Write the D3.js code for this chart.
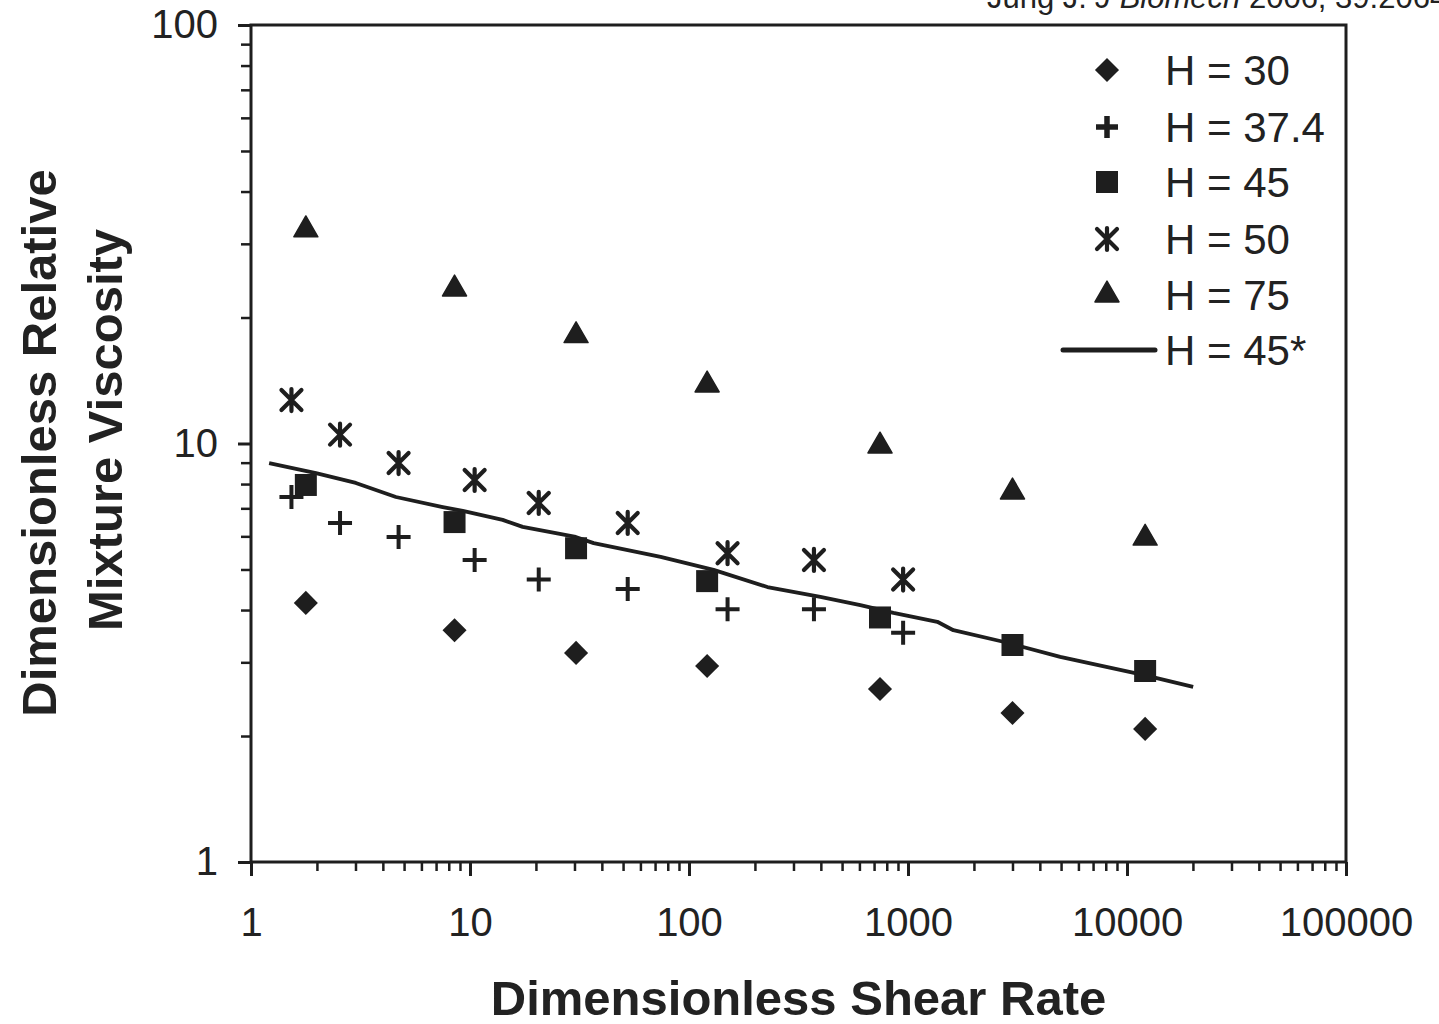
<!DOCTYPE html>
<html>
<head>
<meta charset="utf-8">
<script src="https://cdn.jsdelivr.net/npm/d3@7"></script>
<style>
  body { margin: 0; background: #fff; }
  svg { display: block; }
  text { font-family: "Liberation Sans", Arial, Helvetica, sans-serif; fill: #222; }
</style>
</head>
<body>
<div id="chart"></div>
<script>
// data (shear rate, relative viscosity)
var shearMain = [1.78, 8.5, 30.5, 121, 745, 3000, 12100];
var shearSub = [1.53, 2.55, 4.72, 10.5, 20.6, 52.5, 150, 372, 950];

var h30 = [4.16, 3.58, 3.16, 2.94, 2.59, 2.27, 2.08];
var h45 = [7.96, 6.49, 5.62, 4.69, 3.84, 3.30, 2.86];
var h75 = [32.4, 23.4, 18.1, 13.8, 9.86, 7.66, 5.94];
var h374 = [7.45, 6.46, 5.98, 5.27, 4.73, 4.49, 4.02, 4.02, 3.53];
var h50 = [12.7, 10.5, 8.98, 8.18, 7.21, 6.46, 5.47, 5.27, 4.73];

var fitX = [1.21, 1.98, 3.01, 4.59, 7.51, 9.27, 14.1, 17.4, 30.4, 36.7, 74.2, 129.5, 228, 398, 606, 858, 1361, 1611, 2723, 4955, 11860, 20050];
var fitY = [8.98, 8.50, 8.05, 7.45, 7.05, 6.90, 6.57, 6.32, 5.98, 5.78, 5.36, 4.99, 4.54, 4.30, 4.11, 3.94, 3.75, 3.58, 3.36, 3.09, 2.80, 2.62];

var xMajor = [1, 10, 100, 1000, 10000, 100000];
var yMajor = [1, 10, 100];
var legendLabels = ['H = 30', 'H = 37.4', 'H = 45', 'H = 50', 'H = 75', 'H = 45*'];

var svgWidth = 1439,
    svgHeight = 1024,
    plotLeft = 251, plotRight = 1346, plotTop = 25, plotBottom = 862,
    ink = '#1e1e1e';

var svg = d3.select('#chart')
  .append('svg')
  .attr('width', svgWidth)
  .attr('height', svgHeight);

var x = d3.scaleLog().domain([1, 100000]).range([plotLeft, plotRight]);
var y = d3.scaleLog().domain([1, 100]).range([plotBottom, plotTop]);

// minor ticks 2..9 of each decade
function minors(lo, hi) {
  var out = [];
  for (var d = lo; d < hi; d *= 10)
    for (var k = 2; k <= 9; k++) out.push(d * k);
  return out;
}

// frame
svg.append('rect')
  .attr('x', plotLeft).attr('y', plotTop)
  .attr('width', plotRight - plotLeft).attr('height', plotBottom - plotTop)
  .attr('fill', 'none').attr('stroke', ink).attr('stroke-width', 3);

// x axis
svg.append('g')
  .attr('transform', 'translate(0,' + plotBottom + ')')
  .call(d3.axisBottom(x).tickValues(minors(1, 100000)).tickSize(9).tickFormat(''))
  .call(function(g) { g.select('.domain').remove(); })
  .selectAll('line').attr('stroke', ink).attr('stroke-width', 2.5);

var xAxis = svg.append('g')
  .attr('transform', 'translate(0,' + plotBottom + ')')
  .call(d3.axisBottom(x).tickValues(xMajor).tickSize(14).tickPadding(32)
    .tickFormat(d3.format('d')));
xAxis.select('.domain').remove();
xAxis.selectAll('line').attr('stroke', ink).attr('stroke-width', 3);
xAxis.selectAll('text').attr('font-size', '40px').attr('fill', '#222');

// y axis
svg.append('g')
  .attr('transform', 'translate(' + plotLeft + ',0)')
  .call(d3.axisLeft(y).tickValues(minors(1, 100)).tickSize(10).tickFormat(''))
  .call(function(g) { g.select('.domain').remove(); })
  .selectAll('line').attr('stroke', ink).attr('stroke-width', 2.5);

var yAxis = svg.append('g')
  .attr('transform', 'translate(' + plotLeft + ',0)')
  .call(d3.axisLeft(y).tickValues(yMajor).tickSize(13).tickPadding(20)
    .tickFormat(d3.format('d')));
yAxis.select('.domain').remove();
yAxis.selectAll('line').attr('stroke', ink).attr('stroke-width', 3);
yAxis.selectAll('text').attr('font-size', '40px').attr('fill', '#222');

// axis titles
svg.append('text')
  .attr('x', (plotLeft + plotRight) / 2).attr('y', 1015)
  .attr('text-anchor', 'middle')
  .attr('font-size', '49px').attr('font-weight', 'bold')
  .text('Dimensionless Shear Rate');

svg.append('text')
  .attr('transform', 'translate(56,443) rotate(-90)')
  .attr('text-anchor', 'middle')
  .attr('font-size', '49px').attr('font-weight', 'bold')
  .text('Dimensionless Relative');

svg.append('text')
  .attr('transform', 'translate(122,430) rotate(-90)')
  .attr('text-anchor', 'middle')
  .attr('font-size', '49px').attr('font-weight', 'bold')
  .text('Mixture Viscosity');

// source note, clipped by the top edge
var note = svg.append('text')
  .attr('x', 987).attr('y', 8)
  .attr('font-size', '31px').attr('fill', '#222');
note.append('tspan').text('Jung J. ');
note.append('tspan').attr('font-style', 'italic').text('J Biomech');
note.append('tspan').text(' 2006; 39:2064');

// marker painters
function drawDiamond(g) {
  g.append('path').attr('d', d3.symbol(d3.symbolSquare, 290)())
    .attr('transform', 'rotate(45)').attr('fill', ink);
}
function drawSquare(g) {
  g.append('path').attr('d', d3.symbol(d3.symbolSquare, 484)()).attr('fill', ink);
}
function drawTriangle(g) {
  g.append('path').attr('d', d3.symbol(d3.symbolTriangle, 250)())
    .attr('fill', ink).attr('stroke', ink).attr('stroke-width', 1.5)
    .attr('stroke-linejoin', 'round');
}
function drawPlus(g) {
  g.append('path').attr('d', 'M-12,0H12M0,-12V12')
    .attr('stroke', ink).attr('stroke-width', 4).attr('fill', 'none');
}
function drawPlusBold(g) {
  g.append('path').attr('d', 'M-11,0H11M0,-11V11')
    .attr('stroke', ink).attr('stroke-width', 5.5).attr('fill', 'none');
}
function drawStar(g) {
  g.append('path').attr('d', 'M0,-11V11M-10,-10L10,10M10,-10L-10,10')
    .attr('stroke', ink).attr('stroke-width', 4.2).attr('fill', 'none')
    .attr('stroke-linecap', 'round');
}

function plotSeries(xs, ys, painter) {
  var g = svg.append('g');
  xs.forEach(function(xv, i) {
    var m = g.append('g')
      .attr('transform', 'translate(' + x(xv) + ',' + y(ys[i]) + ')');
    painter(m);
  });
}

// fitted curve H = 45*
var line = d3.line()
  .x(function(d) { return x(d[0]); })
  .y(function(d) { return y(d[1]); });

svg.append('path')
  .datum(d3.zip(fitX, fitY))
  .attr('d', line)
  .attr('fill', 'none').attr('stroke', ink).attr('stroke-width', 3.8)
  .attr('stroke-linejoin', 'round');

plotSeries(shearMain, h30, drawDiamond);
plotSeries(shearSub, h374, drawPlus);
plotSeries(shearMain, h45, drawSquare);
plotSeries(shearSub, h50, drawStar);
plotSeries(shearMain, h75, drawTriangle);

// legend
var painters = [drawDiamond, drawPlusBold, drawSquare, drawStar, drawTriangle];
var legendY = [70, 127, 182, 239, 295, 350];
var legend = svg.append('g');
legendLabels.forEach(function(lbl, i) {
  var row = legend.append('g').attr('transform', 'translate(0,' + legendY[i] + ')');
  if (i < 5) {
    var m = row.append('g').attr('transform', 'translate(1107,0)');
    painters[i](m);
  } else {
    row.append('line').attr('x1', 1063).attr('x2', 1155)
      .attr('stroke', ink).attr('stroke-width', 5).attr('stroke-linecap', 'round');
  }
  row.append('text').attr('x', 1165).attr('dy', '0.36em')
    .attr('font-size', '42px').text(lbl);
});
</script>
</body>
</html>
